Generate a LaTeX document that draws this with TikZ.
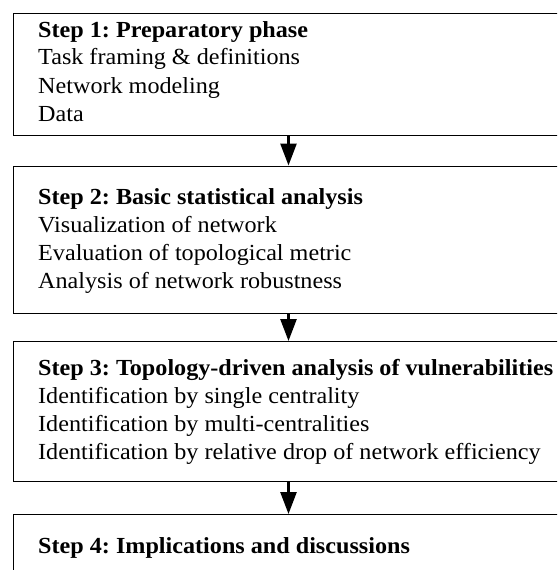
\documentclass[tikz,border=0pt]{standalone}
\usepackage{fontspec}
\usepackage{graphicx}
\setmainfont{Liberation Serif}
\usetikzlibrary{arrows.meta}
\tikzset{
  stepframe/.style={draw=black, line width=1pt, rectangle, inner sep=0pt, anchor=north west},
  steptext/.style={inner sep=0pt, anchor=base west, align=left},
  flowarrow/.style={line width=2.6pt, -{Triangle[length=22pt,width=16pt]}}
}
\newcommand{\steplines}[1]{\scalebox{1.05}[1]{\fontsize{23}{28}\selectfont\frenchspacing\begin{tabular}[t]{@{}l@{}}#1\end{tabular}}}
\begin{document}
\begin{tikzpicture}[x=1pt,y=-1pt]
\useasboundingbox (0,0) rectangle (557,570);
\clip (0,0) rectangle (557,570);
\fill[white] (0,0) rectangle (557,570);
\node[stepframe, minimum width=551pt, minimum height=122.3pt] (b1) at (12.5,12.7) {};
\node[stepframe, minimum width=551pt, minimum height=147.5pt] (b2) at (12.5,165.5) {};
\node[stepframe, minimum width=551pt, minimum height=139.5pt] (b3) at (12.5,341) {};
\node[stepframe, minimum width=551pt, minimum height=120pt] (b4) at (12.5,514) {};
\node[steptext] (t1) at (38,37) {\steplines{\textbf{Step 1: Preparatory phase}\\ Task framing \& definitions\\ Network modeling\\ Data}};
\node[steptext] (t2) at (38,204) {\steplines{\textbf{Step 2: Basic statistical analysis}\\ Visualization of network\\ Evaluation of topological metric\\ Analysis of network robustness}};
\node[steptext] (t3) at (38,375) {\steplines{\textbf{Step 3: Topology-driven analysis of vulnerabilities}\\ Identification by single centrality\\ Identification by multi-centralities\\ Identification by relative drop of network efficiency}};
\node[steptext] (t4) at (38,553) {\steplines{\textbf{Step 4: Implications and discussions}}};
\draw[flowarrow] (b1.south) -- (b2.north);
\draw[flowarrow] (b2.south) -- (b3.north);
\draw[flowarrow] (b3.south) -- (b4.north);
\end{tikzpicture}
\end{document}
